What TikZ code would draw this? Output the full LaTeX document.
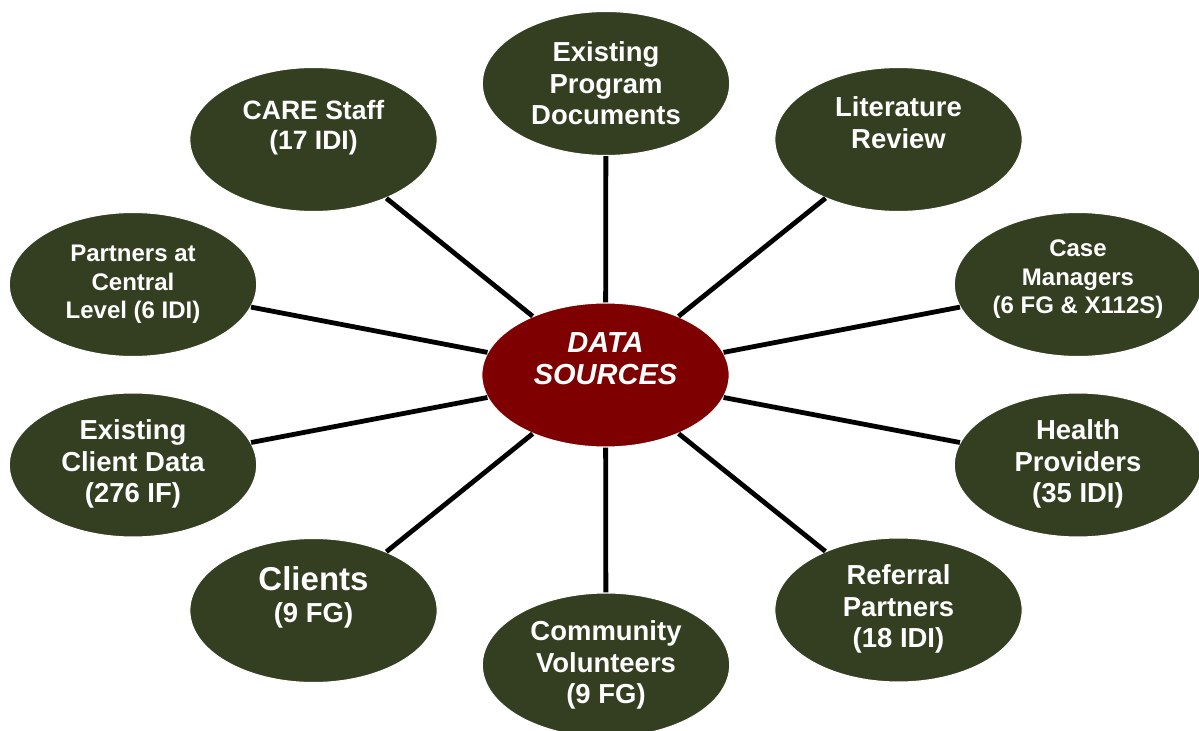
\documentclass[tikz,border=0pt]{standalone}
\usepackage{fontspec}
\setmainfont{Liberation Sans}
\usetikzlibrary{shapes.geometric}
\definecolor{blobgreen}{RGB}{52,63,33}
\definecolor{hubred}{RGB}{127,0,0}
\begin{document}
\begin{tikzpicture}[x=0.75pt,y=-0.75pt,
  blob/.style={ellipse, fill=blobgreen, draw=white, line width=0.8pt,
    minimum width=185.5pt, minimum height=108pt, inner sep=0pt},
  hub/.style={blob, fill=hubred},
  lbl/.style={text=white, align=center, inner sep=0pt,
    font=\fontsize{20.6}{23.6}\selectfont\bfseries},
  lblsmall/.style={lbl, font=\fontsize{18}{21.5}\selectfont\bfseries},
  lblcare/.style={lbl, font=\fontsize{19.9}{22.5}\selectfont\bfseries},
  lblhub/.style={lbl, font=\fontsize{21.75}{24}\selectfont\bfseries\itshape},
  spoke/.style={line width=3.6pt, black}]

\fill[white] (0,0) rectangle (1199,731);
\useasboundingbox (0,0) rectangle (1199,731);

% hub
\node[hub, label={[lblhub, yshift=12pt]center:{DATA\\SOURCES}}] (hub) at (605.5,375) {};

% sources around the hub
\node[blob, label={[lbl]center:{Existing\\Program\\Documents}}] (docs) at (606,83.5) {};
\node[blob, label={[lbl, yshift=12.5pt]center:{Literature\\Review}}] (lit) at (898.5,139.5) {};
\node[blob, label={[lblsmall, yshift=4pt]center:{Case\\Managers\\(6 FG \& X112S)}}] (case) at (1078,284.5) {};
\node[blob, label={[lbl, yshift=0.75pt]center:{Health\\Providers\\(35 IDI)}}] (health) at (1078,465) {};
\node[blob, label={[lbl, yshift=0.75pt]center:{Referral\\Partners\\(18 IDI)}}] (referral) at (898.5,610) {};
\node[blob, label={[lbl]center:{Community\\Volunteers\\(9 FG)}}] (volunteers) at (606,665) {};
\node[blob, label={[lbl, yshift=9.75pt]center:{{\fontsize{24.75}{26.25}\selectfont Clients}\\(9 FG)}}] (clients) at (313.5,610.5) {};
\node[blob, label={[lbl, yshift=0.75pt]center:{Existing\\Client Data\\(276 IF)}}] (clientdata) at (133,465) {};
\node[blob, label={[lblsmall, yshift=0pt]center:{Partners at\\Central\\Level (6 IDI)}}] (central) at (133,284.5) {};
\node[blob, label={[lblcare, yshift=9pt]center:{CARE Staff\\(17 IDI)}}] (staff) at (313.5,139.5) {};

% spokes
\foreach \s in {docs,lit,case,health,referral,volunteers,clients,clientdata,central,staff}
  \draw[spoke] (hub) -- (\s);
\end{tikzpicture}
\end{document}
